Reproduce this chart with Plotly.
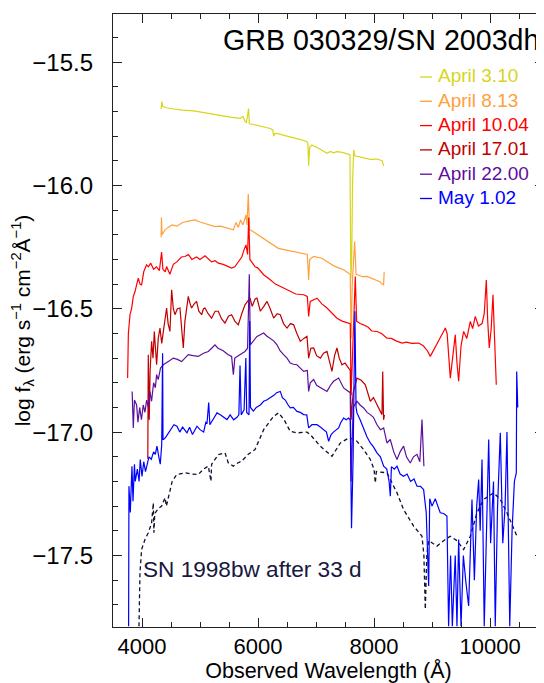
import plotly.graph_objects as go

# ---------------- data ----------------
series_names = ["April 3.10", "April 8.13", "April 10.04", "April 17.01", "April 22.00", "May 1.02"]
template_label = "SN 1998bw after 33 d"
chart_title = "GRB 030329/SN 2003dh"
x_title = "Observed Wavelength (Å)"
y_title = "log f<sub>λ</sub> (erg s<sup>−1</sup> cm<sup>−2</sup>Å<sup>−1</sup>)"
x_tick_values = [4000, 6000, 8000, 10000]
y_tick_values = [-15.5, -16.0, -16.5, -17.0, -17.5]

wl_apr03 = [4330, 4340, 4360, 4420, 4550, 4700, 4890, 5050, 5200, 5400, 5550, 5695, 5740, 5781, 5800, 5838, 5850,
            5900, 6000, 6100, 6212, 6255, 6269, 6290, 6326, 6450, 6600, 6750, 6844, 6860, 6873, 6890, 6930, 7050,
            7189, 7250, 7300, 7361, 7450, 7562, 7585, 7600, 7615, 7630, 7649, 7670, 7750, 7850, 7936, 8050, 8108,
            8140, 8165]
f_apr03 = [-15.69, -15.66, -15.68, -15.685, -15.69, -15.695, -15.698, -15.705, -15.71, -15.718, -15.724, -15.728,
           -15.72, -15.742, -15.745, -15.688, -15.75, -15.752, -15.758, -15.763, -15.769, -15.775, -15.80, -15.79,
           -15.789, -15.797, -15.805, -15.815, -15.823, -15.83, -15.92, -15.845, -15.836, -15.850, -15.870, -15.862,
           -15.868, -15.863, -15.866, -15.872, -15.875, -16.38, -16.30, -15.99, -15.856, -15.88, -15.885, -15.89,
           -15.894, -15.893, -15.897, -15.90, -15.92]

wl_apr08 = [4330, 4335, 4345, 4396, 4450, 4520, 4600, 4700, 4800, 4913, 5000, 5100, 5200, 5258, 5350, 5450, 5574,
            5620, 5660, 5700, 5740, 5793, 5810, 5832, 5855, 5900, 6000, 6100, 6200, 6272, 6350, 6450, 6550, 6650,
            6786, 6850, 6873, 6890, 6959, 7030, 7100, 7200, 7300, 7400, 7476, 7562, 7590, 7605, 7625, 7666, 7690,
            7750, 7800, 7879, 7950, 8051, 8100, 8140, 8165, 8175]
f_apr08 = [-16.21, -16.13, -16.20, -16.18, -16.17, -16.16, -16.165, -16.15, -16.145, -16.14, -16.148, -16.155,
           -16.165, -16.167, -16.165, -16.172, -16.18, -16.15, -16.17, -16.14, -16.16, -16.12, -16.16, -16.035,
           -16.18, -16.185, -16.20, -16.215, -16.232, -16.241, -16.255, -16.26, -16.265, -16.27, -16.275, -16.28,
           -16.383, -16.30, -16.288, -16.29, -16.295, -16.31, -16.325, -16.335, -16.342, -16.356, -16.36, -16.62,
           -16.40, -16.227, -16.36, -16.365, -16.37, -16.369, -16.375, -16.383, -16.39, -16.40, -16.403, -16.35]

wl_apr10 = [3752, 3765, 3793, 3820, 3850, 3880, 3910, 3936, 3965, 3993, 4030, 4079, 4110, 4150, 4200, 4250, 4300,
            4338, 4360, 4400, 4424, 4480, 4540, 4600, 4680, 4741, 4800, 4860, 4940, 5000, 5086, 5150, 5200, 5260,
            5315, 5400, 5480, 5545, 5600, 5660, 5720, 5760, 5793, 5820, 5840, 5860, 5900, 5950, 6000, 6097, 6200,
            6300, 6441, 6550, 6650, 6786, 6850, 6873, 6900, 7017, 7100, 7189, 7280, 7362, 7450, 7562, 7590, 7605,
            7630, 7677, 7700, 7760, 7820, 7900, 7960, 8051, 8130, 8223, 8300, 8380, 8482, 8560, 8650, 8769, 8850,
            8920, 8970, 9040, 9113, 9180, 9229, 9260, 9315, 9350, 9401, 9430, 9459, 9500, 9545, 9600, 9660, 9700,
            9746, 9800, 9862, 9900, 9936, 9960, 9987, 10020, 10051, 10075, 10091, 10108]
f_apr10 = [-16.781, -16.60, -16.524, -16.50, -16.45, -16.43, -16.40, -16.376, -16.40, -16.403, -16.35, -16.322,
           -16.33, -16.315, -16.34, -16.33, -16.345, -16.27, -16.34, -16.35, -16.329, -16.36, -16.32, -16.31,
           -16.29, -16.288, -16.28, -16.30, -16.29, -16.30, -16.285, -16.30, -16.31, -16.305, -16.315, -16.32,
           -16.33, -16.335, -16.33, -16.31, -16.29, -16.26, -16.241, -16.28, -16.13, -16.30, -16.315, -16.33,
           -16.335, -16.362, -16.38, -16.40, -16.416, -16.43, -16.44, -16.443, -16.45, -16.531, -16.47, -16.457,
           -16.48, -16.497, -16.52, -16.538, -16.55, -16.558, -16.56, -16.85, -16.70, -16.369, -16.55, -16.56,
           -16.565, -16.575, -16.59, -16.592, -16.60, -16.619, -16.62, -16.63, -16.639, -16.635, -16.64, -16.639,
           -16.65, -16.67, -16.693, -16.66, -16.632, -16.60, -16.578, -16.60, -16.781, -16.70, -16.605, -16.72,
           -16.794, -16.65, -16.592, -16.62, -16.551, -16.58, -16.531, -16.57, -16.56, -16.52, -16.383, -16.55,
           -16.659, -16.58, -16.443, -16.60, -16.673, -16.808]

wl_apr17 = [4100, 4108, 4125, 4140, 4166, 4190, 4212, 4230, 4252, 4280, 4310, 4340, 4367, 4395, 4424, 4450, 4482,
            4511, 4540, 4568, 4610, 4654, 4690, 4712, 4740, 4770, 4798, 4830, 4855, 4900, 4941, 4980, 5028, 5060,
            5086, 5140, 5200, 5260, 5315, 5370, 5431, 5490, 5545, 5600, 5660, 5720, 5775, 5820, 5862, 5900, 5950,
            5982, 6040, 6100, 6155, 6210, 6270, 6330, 6384, 6440, 6500, 6560, 6614, 6670, 6729, 6790, 6844, 6873,
            6910, 6959, 7010, 7075, 7130, 7189, 7240, 7275, 7320, 7361, 7400, 7448, 7500, 7562, 7590, 7605, 7640,
            7706, 7780, 7850, 7900, 7936, 7990, 8051, 8100, 8137, 8150, 8165, 8180]
f_apr17 = [-17.108, -16.686, -16.95, -16.75, -16.632, -16.70, -16.592, -16.68, -16.727, -16.62, -16.578, -16.64,
           -16.60, -16.55, -16.497, -16.56, -16.592, -16.423, -16.50, -16.524, -16.50, -16.497, -16.60, -16.659,
           -16.55, -16.50, -16.45, -16.48, -16.497, -16.48, -16.47, -16.51, -16.524, -16.50, -16.497, -16.52,
           -16.538, -16.51, -16.51, -16.54, -16.558, -16.53, -16.524, -16.55, -16.565, -16.52, -16.484, -16.47,
           -16.457, -16.49, -16.46, -16.457, -16.51, -16.49, -16.47, -16.50, -16.538, -16.52, -16.524, -16.56,
           -16.578, -16.56, -16.565, -16.60, -16.632, -16.62, -16.612, -16.70, -16.66, -16.659, -16.69, -16.70,
           -16.68, -16.673, -16.72, -16.754, -16.69, -16.659, -16.70, -16.727, -16.72, -16.74, -16.75, -16.95,
           -16.84, -16.781, -16.79, -16.808, -16.85, -16.875, -16.86, -16.889, -16.91, -16.929, -16.754, -16.95,
           -16.93]

wl_apr22 = [3830, 3850, 3870, 3907, 3930, 3960, 3990, 4022, 4050, 4080, 4110, 4137, 4165, 4200, 4230, 4252, 4280,
            4320, 4367, 4420, 4480, 4540, 4610, 4683, 4740, 4798, 4880, 4970, 5060, 5143, 5200, 5258, 5310, 5400,
            5480, 5545, 5575, 5600, 5660, 5720, 5775, 5820, 5850, 5867, 5920, 5982, 6040, 6097, 6150, 6212, 6270,
            6327, 6380, 6441, 6500, 6556, 6610, 6671, 6730, 6786, 6850, 6873, 6900, 6959, 7010, 7080, 7130, 7189,
            7250, 7303, 7390, 7430, 7476, 7530, 7562, 7590, 7605, 7640, 7706, 7760, 7821, 7880, 7936, 7990, 8051,
            8110, 8166, 8223, 8280, 8340, 8396, 8450, 8510, 8560, 8625, 8680, 8740, 8790, 8827, 8845, 8860]
f_apr22 = [-16.835, -16.983, -16.87, -16.89, -16.96, -16.90, -16.95, -16.89, -16.92, -16.87, -16.90, -16.835,
           -16.875, -16.80, -16.82, -16.767, -16.787, -16.74, -16.727, -16.72, -16.71, -16.70, -16.705, -16.714,
           -16.70, -16.686, -16.69, -16.693, -16.68, -16.673, -16.66, -16.646, -16.66, -16.67, -16.685, -16.693,
           -16.767, -16.70, -16.69, -16.68, -16.673, -16.66, -16.36, -16.646, -16.63, -16.612, -16.605, -16.598,
           -16.61, -16.619, -16.63, -16.646, -16.67, -16.686, -16.70, -16.72, -16.725, -16.727, -16.74, -16.754,
           -16.75, -16.835, -16.80, -16.787, -16.81, -16.82, -16.83, -16.835, -16.81, -16.794, -16.781, -16.80,
           -16.821, -16.83, -16.835, -16.84, -17.20, -16.90, -16.875, -16.89, -16.902, -16.92, -16.929, -16.94,
           -16.97, -16.99, -16.983, -17.044, -17.03, -17.08, -17.111, -17.08, -17.057, -17.10, -17.125, -17.10,
           -17.09, -17.12, -16.949, -17.10, -17.138]

wl_may01 = [3769, 3775, 3798, 3827, 3845, 3870, 3884, 3920, 3950, 3970, 4000, 4030, 4060, 4086, 4120, 4160, 4200,
            4230, 4258, 4290, 4315, 4340, 4355, 4362, 4373, 4410, 4459, 4500, 4550, 4603, 4650, 4700, 4775, 4820,
            4870, 4948, 5000, 5063, 5100, 5121, 5150, 5170, 5220, 5293, 5350, 5400, 5465, 5520, 5580, 5637, 5670,
            5690, 5710, 5760, 5790, 5805, 5845, 5857, 5870, 5920, 5970, 6040, 6097, 6150, 6212, 6280, 6320, 6384,
            6420, 6470, 6520, 6556, 6610, 6671, 6730, 6786, 6840, 6873, 6930, 7017, 7080, 7130, 7180, 7218, 7260,
            7300, 7350, 7390, 7430, 7476, 7520, 7562, 7590, 7612, 7640, 7670, 7690, 7706, 7760, 7821, 7880, 7936,
            7990, 8051, 8110, 8166, 8220, 8260, 8281, 8300, 8350, 8396, 8450, 8510, 8570, 8630, 8690, 8741, 8800,
            8855, 8900, 8942, 8960, 9000, 9056, 9100, 9142, 9200, 9257, 9286, 9320, 9350, 9400, 9430, 9459, 9500,
            9540, 9580, 9631, 9689, 9730, 9770, 9804, 9830, 9862, 9900, 9950, 9977, 10010, 10060, 10090, 10130,
            10177, 10220, 10260, 10292, 10340, 10380, 10420, 10453, 10460, 10478]
f_may01 = [-17.787, -17.219, -17.326, -17.138, -17.28, -17.13, -17.20, -17.15, -17.20, -17.111, -17.18, -17.12,
           -17.16, -17.13, -17.10, -17.11, -17.08, -17.09, -17.057, -17.10, -17.13, -17.05, -16.68, -17.03,
           -17.03, -17.02, -17.003, -16.99, -16.97, -16.976, -17.00, -16.98, -17.003, -16.98, -17.01, -16.976,
           -16.99, -17.00, -16.96, -16.963, -16.88, -16.97, -16.95, -16.922, -16.93, -16.94, -16.949, -16.93,
           -16.95, -16.94, -16.93, -16.73, -16.93, -16.91, -16.70, -16.92, -16.93, -16.55, -16.90, -16.915,
           -16.90, -16.89, -16.875, -16.87, -16.862, -16.85, -16.84, -16.835, -16.86, -16.87, -16.89, -16.902,
           -16.90, -16.916, -16.92, -16.929, -16.93, -16.983, -16.97, -16.97, -16.98, -16.99, -17.00, -17.037,
           -17.01, -17.00, -16.99, -16.983, -16.96, -16.943, -16.95, -16.943, -16.95, -17.39, -17.10, -16.51,
           -16.90, -16.922, -16.95, -16.99, -17.02, -17.044, -17.06, -17.084, -17.10, -17.138, -17.15, -17.20,
           -17.26, -17.14, -17.15, -17.138, -17.17, -17.179, -17.17, -17.20, -17.19, -17.219, -17.22, -17.233,
           -17.327, -17.624, -17.27, -17.30, -17.27, -17.30, -17.327, -17.33, -17.34, -17.787, -17.50, -17.787,
           -17.50, -17.787, -17.435, -17.787, -17.50, -17.60, -17.705, -17.273, -17.60, -17.30, -17.192, -17.40,
           -17.111, -17.787, -17.30, -17.03, -17.45, -17.20, -17.787, -17.30, -17.003, -17.45, -17.30, -17.00,
           -17.787, -17.40, -17.20, -17.165, -16.754, -16.90]

wl_sn98bw = [3948, 3955, 3965, 3993, 4051, 4108, 4165, 4195, 4205, 4220, 4280, 4338, 4396, 4420, 4454, 4520, 4597,
             4741, 4850, 4970, 5060, 5143, 5189, 5200, 5315, 5431, 5488, 5574, 5650, 5717, 5832, 5948, 6097, 6269,
             6355, 6450, 6556, 6671, 6844, 6901, 7074, 7275, 7419, 7562, 7680, 7821, 7936, 8000, 8022, 8040, 8223,
             8396, 8510, 8683, 8827, 8860, 8884, 8910, 8942, 9086, 9200, 9315, 9430, 9545, 9660, 9775, 9890, 10062,
             10177, 10292, 10465]
f_sn98bw = [-17.787, -17.65, -17.57, -17.476, -17.435, -17.408, -17.37, -17.287, -17.408, -17.33, -17.31, -17.30,
            -17.266, -17.30, -17.266, -17.20, -17.172, -17.165, -17.17, -17.172, -17.15, -17.138, -17.199, -17.13,
            -17.091, -17.084, -17.125, -17.138, -17.125, -17.118, -17.09, -17.071, -16.99, -16.936, -16.922,
            -16.95, -16.997, -17.003, -17.00, -17.01, -17.057, -17.098, -17.044, -17.024, -17.03, -17.071, -17.111,
            -17.15, -17.206, -17.16, -17.165, -17.246, -17.314, -17.381, -17.422, -17.50, -17.718, -17.50, -17.44,
            -17.462, -17.44, -17.422, -17.44, -17.476, -17.422, -17.327, -17.273, -17.246, -17.273, -17.327,
            -17.422]

# ---------------- styles / layout ----------------
FONT = "Liberation Sans, Arial, Helvetica, sans-serif"
colors = ["#d6d61c", "#ffa040", "#ff0000", "#c00000", "#5c0f9e", "#0000ff"]
template_color = "#101030"

PAGE_OFF = 8                      # page body margin the figure sits inside
W, H = 544 - PAGE_OFF, 683 - PAGE_OFF
L, R, T, B = 113 - PAGE_OFF, 0, 14 - PAGE_OFF, 56


def px_x(px):   # page pixel -> paper x
    return (px - PAGE_OFF - L) / (W - L - R)


def px_y(py):   # page pixel -> paper y
    return (H - B - (py - PAGE_OFF)) / (H - T - B)


fig = go.Figure()

spectra = [(wl_apr03, f_apr03), (wl_apr08, f_apr08), (wl_apr10, f_apr10),
           (wl_apr17, f_apr17), (wl_apr22, f_apr22), (wl_may01, f_may01)]

fig.add_trace(go.Scatter(x=wl_sn98bw, y=f_sn98bw, mode="lines", name=template_label,
                         line=dict(color=template_color, width=1.3, dash="4px,3px"), showlegend=False))
for (wl, fl), name, col in zip(spectra, series_names, colors):
    fig.add_trace(go.Scatter(x=wl, y=fl, mode="lines", name=name,
                             line=dict(color=col, width=1.2), showlegend=False))

annotations = []
shapes = []
annotations.append(dict(text=chart_title, xref="paper", yref="paper", x=px_x(541), y=px_y(40),
                        xanchor="right", yanchor="middle", showarrow=False,
                        font=dict(family=FONT, size=28.6, color="#000000")))
for i, (name, col) in enumerate(zip(series_names, colors)):
    yc = 76 + i * 24.3
    annotations.append(dict(text=name, xref="paper", yref="paper",
                            x=px_x(436), y=px_y(yc), xanchor="left", yanchor="middle",
                            showarrow=False, font=dict(family=FONT, size=19, color=col)))
    shapes.append(dict(type="line", xref="paper", yref="paper", x0=px_x(420), x1=px_x(432),
                       y0=px_y(yc + 1), y1=px_y(yc + 1), line=dict(color=col, width=1.3)))
annotations.append(dict(text=template_label, xref="paper", yref="paper", x=px_x(141), y=px_y(569),
                        xanchor="left", yanchor="middle", showarrow=False,
                        font=dict(family=FONT, size=22.6, color="#181840")))

axis_common = dict(showline=True, linecolor="#222222", linewidth=1.4, mirror="allticks",
                   ticks="inside", ticklen=9, tickwidth=1.2, tickcolor="#222222",
                   showgrid=False, zeroline=False, automargin=False)

fig.update_layout(
    width=W, height=H,
    margin=dict(l=L, r=R, t=T, b=B, pad=0, autoexpand=False),
    paper_bgcolor="white", plot_bgcolor="white",
    annotations=annotations, shapes=shapes,
    xaxis=dict(range=[3500, 3500 + (W - L - R) * 17.24], tickvals=x_tick_values,
               ticktext=[str(v) for v in x_tick_values],
               tickfont=dict(family=FONT, size=22, color="#000000"),
               minor=dict(dtick=500, tick0=4000, ticks="inside", ticklen=5, tickwidth=1.1, tickcolor="#222222"),
               title=dict(text=x_title, font=dict(family=FONT, size=21.5, color="#000000"), standoff=5),
               ticklabelstandoff=-1,
               **axis_common),
    yaxis=dict(range=[-17.79, -15.305], tickvals=y_tick_values, tickformat=".1f",
               tickfont=dict(family=FONT, size=24, color="#000000"),
               minor=dict(dtick=0.1, tick0=-15.5, ticks="inside", ticklen=5, tickwidth=1.1, tickcolor="#222222"),
               title=dict(text=y_title, font=dict(family=FONT, size=21, color="#000000"), standoff=0),
               ticklabelstandoff=14,
               **axis_common),
)

fig.write_html("out.html")
